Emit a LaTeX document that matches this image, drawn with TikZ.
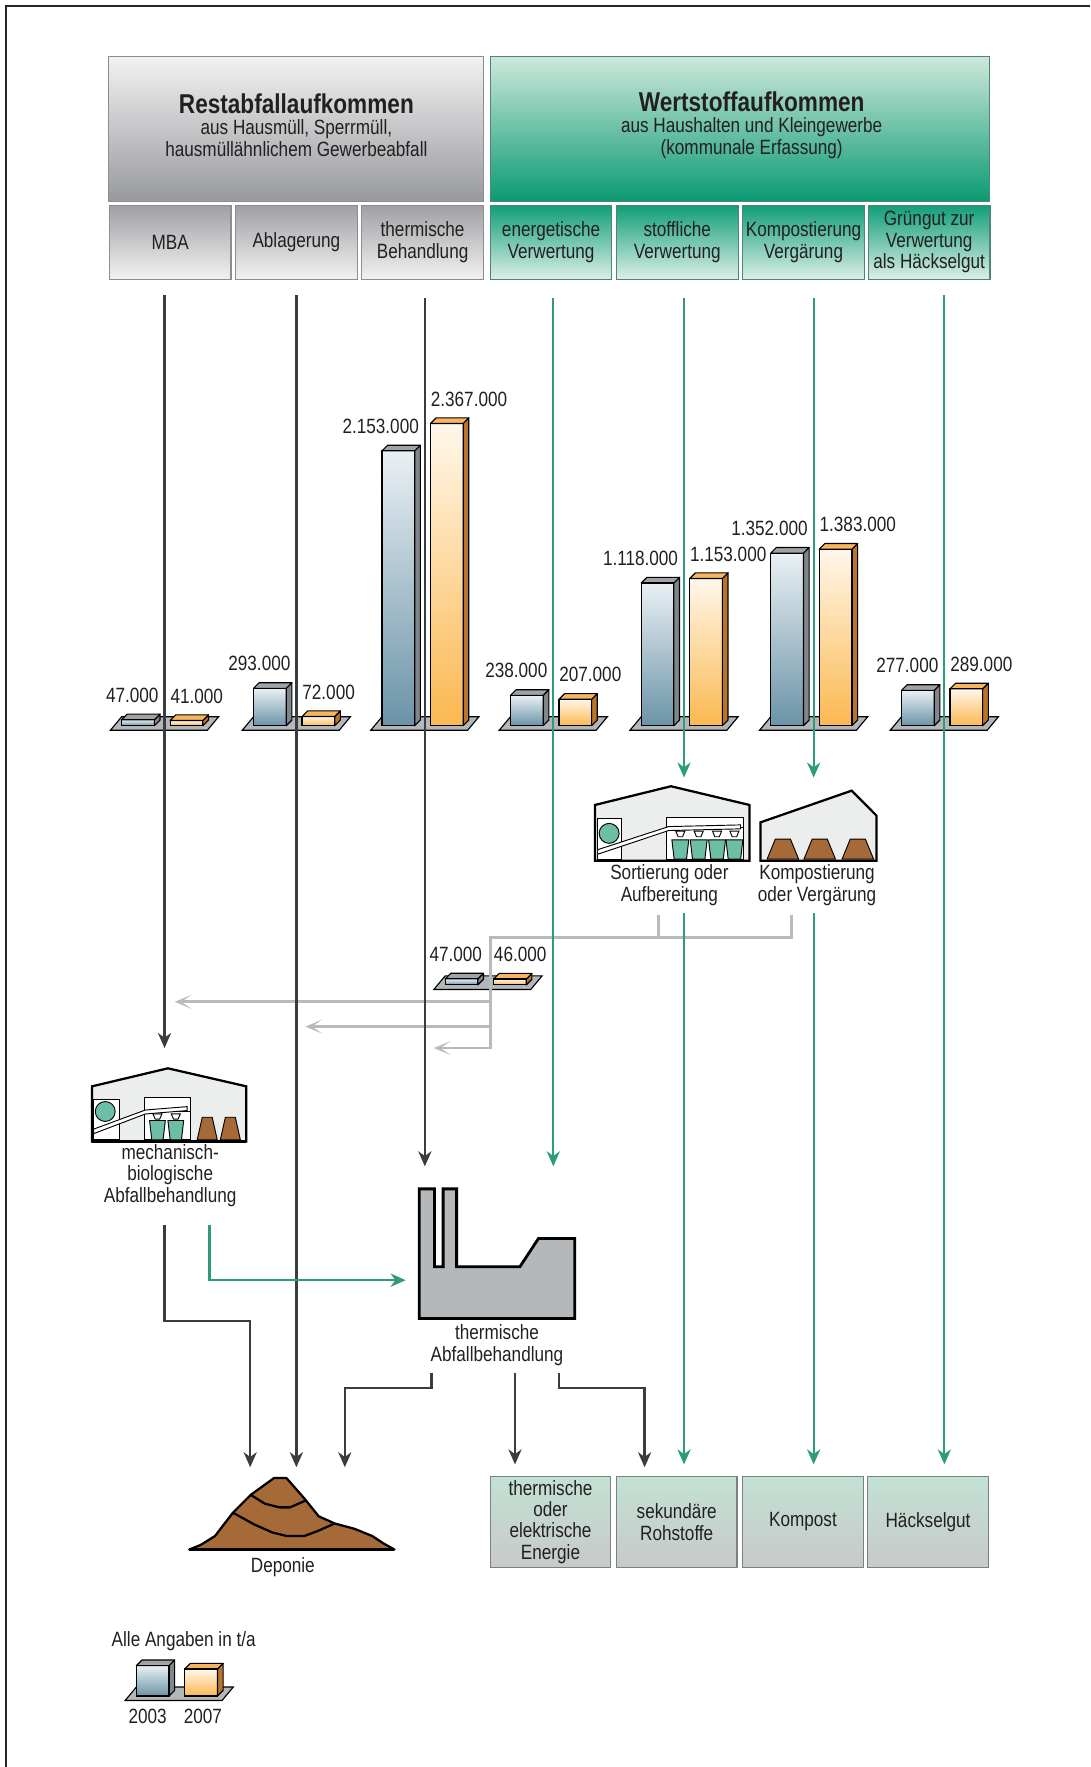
\documentclass[tikz,border=0pt]{standalone}
\usepackage{fontspec}
\setmainfont{Liberation Sans}[FakeStretch=0.83]
\usetikzlibrary{arrows.meta}

\definecolor{flowdark}{HTML}{3A3D40}
\definecolor{flowgreen}{HTML}{2E9C7A}
\definecolor{flowgray}{HTML}{B6BBBD}
\definecolor{inkgray}{HTML}{231F20}
\definecolor{bluetop}{HTML}{EAF0F4}
\definecolor{bluebot}{HTML}{6A93A7}
\definecolor{blueside}{HTML}{80868A}
\definecolor{bluecap}{HTML}{9DA3A7}
\definecolor{orangetop}{HTML}{FFF7EA}
\definecolor{orangebot}{HTML}{FBB850}
\definecolor{orangeside}{HTML}{B8742C}
\definecolor{orangecap}{HTML}{F7B560}
\definecolor{platgray}{HTML}{B3B7B9}
\definecolor{hallgray}{HTML}{ECEEEE}
\definecolor{bingreen}{HTML}{6CBFA6}
\definecolor{heapbrown}{HTML}{A66A38}
\definecolor{plantgray}{HTML}{B5B8BB}
\definecolor{resttop}{HTML}{F2F2F2}
\definecolor{restbot}{HTML}{98999D}
\definecolor{restline}{HTML}{8C8D90}
\definecolor{werttop}{HTML}{CDE8DB}
\definecolor{wertmid}{HTML}{4DB28E}
\definecolor{wertbot}{HTML}{0A9A72}
\definecolor{wertline}{HTML}{4E8675}
\definecolor{subgreen}{HTML}{109E78}
\definecolor{sublight}{HTML}{DCEFE6}
\definecolor{subgray}{HTML}{9FA0A4}
\definecolor{endtop}{HTML}{C2E1D3}
\definecolor{endbot}{HTML}{C8C9CA}
\definecolor{endline}{HTML}{7D8080}

\newcommand{\hdfont}{\fontsize{14.5}{14.5}\selectfont\bfseries}

\tikzset{
  txt/.style={font=\fontsize{11}{11.4}\selectfont, text=inkgray, align=center, inner sep=0pt},
  restbox/.style={txt, top color=resttop, bottom color=restbot, draw=restline, line width=0.6pt,
    minimum width=199.8pt, minimum height=77.4pt},
  wertbox/.style={txt, top color=werttop, middle color=wertmid, bottom color=wertbot, draw=wertline,
    line width=0.6pt, minimum width=265.8pt, minimum height=77.4pt},
  restsub/.style={txt, top color=subgray, bottom color=resttop, draw=restline, line width=0.6pt,
    minimum width=64.8pt, minimum height=39.6pt},
  wertsub/.style={txt, top color=subgreen, bottom color=sublight, draw=wertline, line width=0.6pt,
    minimum width=64.8pt, minimum height=39.6pt},
  endbox/.style={txt, top color=endtop, bottom color=endbot, draw=endline, line width=0.6pt,
    minimum width=64.2pt, minimum height=48.6pt},
  darkflow/.style={draw=flowdark, line width=1.2pt, -{Stealth[length=8pt,width=7pt,inset=2.5pt]}},
  greenflow/.style={draw=flowgreen, line width=1.2pt, -{Stealth[length=8pt,width=7pt,inset=2.5pt]}},
  grayline/.style={draw=flowgray, line width=1.5pt},
  grayflow/.style={grayline, -{Stealth[length=9pt,width=7.5pt,inset=5.5pt]}},
  hall/.style={fill=hallgray, draw=black, line width=1.2pt, line join=miter},
  part/.style={draw=black, line width=0.5pt},
}

\newcommand{\barbox}[4]{%
  \shade[top color=#4top, bottom color=#4bot] (#1,#2) rectangle ++(29,-#3);
  \filldraw[fill=#4side, line width=0.6pt, line join=round] (#1+29,#2) -- ++(5,-5) -- ++(0,-#3) -- ++(-5,5) -- cycle;
  \filldraw[fill=#4cap, line width=0.6pt, line join=round] (#1,#2-#3) -- ++(5,-5) -- ++(29,0) -- ++(-5,5) -- cycle;
  \draw[line width=0.6pt] (#1,#2) rectangle ++(29,-#3);
}

\newcommand{\bargroup}[7]{%
  \pgfmathsetmacro\hA{#4*0.1133}%
  \pgfmathsetmacro\hB{#5*0.1133}%
  \filldraw[fill=platgray, line width=0.6pt] (#2-48,#3+4) -- (#2+38,#3+4) -- (#2+48,#3-8) -- (#2-38,#3-8) -- cycle;
  \barbox{#2-38}{#3}{\hA}{blue}
  \barbox{#2+5}{#3}{\hB}{orange}
  \node[txt, anchor=south east] (#1a) at (#2-5,#3-\hA-15) {#6};
  \node[txt, anchor=south west] (#1b) at (#2+5,#3-\hB-15) {#7};
}

\begin{document}
\begin{tikzpicture}[x=0.6pt, y=-0.6pt]
  \useasboundingbox (0,0) rectangle (967.3,1568);
  \draw[black!85, line width=1pt] (5.3,1568) -- (5.3,5.3) -- (967.3,5.3);

  % header
  \node[restbox] (rest) at (262.5,114.5) {};
  \node[wertbox] (wert) at (656.5,114.5) {};
  \node[txt] (resttxt) at (263,111) {{\hdfont Restabfallaufkommen}\\aus Hausmüll, Sperrmüll,\\hausmüllähnlichem Gewerbeabfall};
  \node[txt] (werttxt) at (667,111) {{\hdfont Wertstoffaufkommen}\\aus Haushalten und Kleingewerbe\\(kommunale Erfassung)};
  \foreach \nm/\cx/\lbl in {mba/151/MBA, abl/263/Ablagerung, thb/375/{thermische\\Behandlung}}
    \node[restsub] (\nm) at (\cx,215) {\lbl};
  \foreach \nm/\cx/\lbl in {ener/489/{energetische\\Verwertung}, stoff/601/{stoffliche\\Verwertung},
      kompv/713/{Kompostierung\\Vergärung}, gruen/824.5/{Grüngut zur\\Verwertung\\als Häckselgut}}
    \node[wertsub] (\nm) at (\cx,215) {\lbl};

  % bars
  \bargroup{gmba}{146}{644}{47}{41}{47.000}{41.000}
  \bargroup{gabl}{263}{644}{293}{72}{293.000}{72.000}
  \bargroup{gthb}{377}{644}{2153}{2367}{2.153.000}{2.367.000}
  \bargroup{gener}{491}{644}{238}{207}{238.000}{207.000}
  \bargroup{gstoff}{607}{644}{1118}{1153}{1.118.000}{1.153.000}
  \bargroup{gkomp}{722}{644}{1352}{1383}{1.352.000}{1.383.000}
  \bargroup{ggruen}{838}{644}{277}{289}{277.000}{289.000}
  \bargroup{gaus}{433}{874}{47}{46}{47.000}{46.000}

  % Sortierung
  \filldraw[hall] (528,763.8) -- (528,714.3) -- (595.4,697.7) -- (665,714.3) -- (665,763.8) -- cycle;
  \filldraw[part, fill=white] (530.4,726.2) rectangle (551.1,762.4);
  \filldraw[part, fill=bingreen] (540.5,739.5) circle [radius=5.3pt];
  \filldraw[part, fill=white] (591.8,725.3) rectangle (660.1,762.4);
  \draw[part] (591.8,734.2) -- (660.1,734.2);
  \filldraw[part, fill=white] (530.4,758) -- (593.3,737) -- (657.1,735.5) -- (657.1,732) -- (593.3,733.5) -- (530.4,754) -- cycle;
  \foreach \c in {603.7,620,636.3,651.7} {
    \filldraw[part, fill=white] (\c-4,737.5) -- (\c+4,737.5) -- (\c+2,742.5) -- (\c-2,742.5) -- cycle;
    \filldraw[part, fill=bingreen] (\c-7.5,745.2) -- (\c+7.5,745.2) -- (\c+5.5,762.4) -- (\c-5.5,762.4) -- cycle;
  }
  \draw[black, line width=1.2pt] (528,763.8) -- (665,763.8);
  \node[txt] (sortlbl) at (594,785.5) {Sortierung oder\\Aufbereitung};

  % Kompostierung
  \filldraw[hall] (674.9,763.8) -- (674.9,729.7) -- (755.8,701.6) -- (777.8,723.8) -- (777.8,763.8) -- cycle;
  \foreach \c in {694.7,727.4,761.2}
    \filldraw[part, fill=heapbrown] (\c-14,762.4) -- (\c-6.7,744.6) -- (\c+6.7,744.6) -- (\c+14,762.4) -- cycle;
  \node[txt] (komplbl) at (725,785.5) {Kompostierung\\oder Vergärung};

  % MBA
  \filldraw[hall] (81.6,1013) -- (81.6,964) -- (149,948) -- (218.6,964) -- (218.6,1013) -- cycle;
  \filldraw[part, fill=white] (83.1,976) rectangle (106.2,1011.5);
  \filldraw[part, fill=bingreen] (93.4,986.3) circle [radius=5.3pt];
  \filldraw[part, fill=white] (128.1,973.6) rectangle (169.1,1011.5);
  \draw[part] (128.1,986) -- (169.1,986);
  \filldraw[part, fill=white] (83,1006) -- (129,988.5) -- (166,985.5) -- (166,982) -- (129,985) -- (83,1002) -- cycle;
  \foreach \c in {139.7,156} {
    \filldraw[part, fill=white] (\c-4,988.5) -- (\c+4,988.5) -- (\c+2,993) -- (\c-2,993) -- cycle;
    \filldraw[part, fill=bingreen] (\c-7,994.3) -- (\c+7,994.3) -- (\c+5,1011.5) -- (\c-5,1011.5) -- cycle;
  }
  \foreach \c in {183.9,204.4}
    \filldraw[part, fill=heapbrown] (\c-8.9,1011.5) -- (\c-4.4,991.4) -- (\c+4.4,991.4) -- (\c+8.9,1011.5) -- cycle;
  \draw[black, line width=1.2pt] (81.6,1013) -- (218.6,1013);
  \node[txt] (mbalbl) at (151,1043) {mechanisch-\\biologische\\Abfallbehandlung};

  % thermische Abfallbehandlung
  \filldraw[fill=plantgray, draw=black, line width=1.5pt] (372,1055) -- (385.6,1055) -- (385.6,1124) -- (393.2,1124)
    -- (393.2,1055) -- (405.2,1055) -- (405.2,1124) -- (461.4,1124) -- (477.8,1099) -- (510,1099)
    -- (510,1170) -- (372,1170) -- cycle;
  \node[txt] (tavlbl) at (441,1193.5) {thermische\\Abfallbehandlung};

  % Deponie
  \filldraw[fill=heapbrown, draw=black, line width=1.2pt, line join=round] (168,1375) -- (178.1,1370.9) -- (190.8,1363)
    -- (206.7,1342.3) -- (222.5,1326.5) -- (243.1,1311.6) -- (254.2,1311.6) -- (270.1,1329.7) -- (282.8,1345.5)
    -- (297,1351.9) -- (314.5,1356.6) -- (330.3,1363) -- (339.8,1369.3) -- (350,1375) -- cycle;
  \draw[black, line width=1.2pt, line join=round] (222.5,1326.5) -- (235.2,1334.4) -- (247.9,1337.6) -- (257.4,1337.6) -- (271.7,1331.3);
  \draw[black, line width=1.2pt, line join=round] (206.7,1342.3) -- (225.7,1352.8) -- (241.5,1359.8) -- (254.2,1363)
    -- (270.1,1363) -- (282.8,1358.2) -- (297,1351.9);
  \draw[black, line width=1.6pt] (168,1375) -- (350,1375);
  \node[txt] (deplbl) at (251,1391) {Deponie};

  % bottom boxes
  \node[endbox] (energie) at (488.5,1350.5) {thermische\\oder\\elektrische\\Energie};
  \node[endbox] (rohst) at (600.5,1350.5) {sekundäre\\Rohstoffe};
  \node[endbox] (kompost) at (712.5,1350.5) {Kompost};
  \node[endbox] (haeck) at (823.5,1350.5) {Häckselgut};

  % legend
  \node[txt] (legtxt) at (163,1456) {Alle Angaben in t/a};
  \bargroup{leg}{159}{1505}{238}{212}{}{}
  \node[txt] (leg03) at (131,1523) {2003};
  \node[txt] (leg07) at (180,1523) {2007};

  % coordinates
  \coordinate (k1) at (146,262);
  \coordinate (k2) at (263,262);
  \coordinate (k3) at (377,264);
  \coordinate (k4) at (491,264);
  \coordinate (k5) at (607,264);
  \coordinate (k6) at (722,264);
  \coordinate (k7) at (838,262);
  \coordinate (mbain) at (146,930);
  \coordinate (sortin) at (607,690);
  \coordinate (kompin) at (722,690);
  \coordinate (tavin1) at (377,1035);
  \coordinate (tavin2) at (491,1035);
  \coordinate (tavin3) at (360,1136);
  \coordinate (depin1) at (222,1302);
  \coordinate (depin2) at (263,1302);
  \coordinate (depin3) at (306,1302);
  \coordinate (rohstin) at (572,1302);
  \coordinate (mbaout1) at (146,1087);
  \coordinate (mbaout2) at (186,1087);
  \coordinate (tavout1) at (383,1218);
  \coordinate (tavout2) at (457,1218);
  \coordinate (tavout3) at (496,1218);
  \coordinate (sortout) at (607,810);
  \coordinate (kompout) at (722,810);
  \coordinate (sortrest) at (584,812);
  \coordinate (komprest) at (702,812);
  \coordinate (ausknot) at (435,832);
  \coordinate (ausmid1) at (435,889);
  \coordinate (ausmid2) at (435,911);
  \coordinate (ausin1) at (155,889);
  \coordinate (ausin2) at (271,911);
  \coordinate (ausin3) at (385,930);

  % sorted-out residues
  \draw[grayline] (sortrest) -- (sortrest |- ausknot);
  \draw[grayflow] (komprest) |- (ausknot) |- (ausin3);
  \draw[grayflow] (ausmid1) -- (ausin1);
  \draw[grayflow] (ausmid2) -- (ausin2);

  % flows
  \draw[darkflow] (k1) -- (mbain);
  \draw[darkflow] (k2) -- (depin2);
  \draw[darkflow] (k3) -- (tavin1);
  \draw[greenflow] (k4) -- (tavin2);
  \draw[greenflow] (k5) -- (sortin);
  \draw[greenflow] (k6) -- (kompin);
  \draw[greenflow, shorten >=6pt] (k7) -- (haeck.north -| k7);
  \draw[greenflow, shorten >=6pt] (sortout) -- (rohst.north -| sortout);
  \draw[greenflow, shorten >=6pt] (kompout) -- (kompost.north -| kompout);
  \draw[darkflow] (mbaout1) -- ++(0,85) -| (depin1);
  \draw[greenflow] (mbaout2) |- (tavin3);
  \draw[darkflow] (tavout1) -- ++(0,14) -| (depin3);
  \draw[darkflow, shorten >=6pt] (tavout2) -- (energie.north -| tavout2);
  \draw[darkflow] (tavout3) -- ++(0,14) -| (rohstin);
\end{tikzpicture}
\end{document}
